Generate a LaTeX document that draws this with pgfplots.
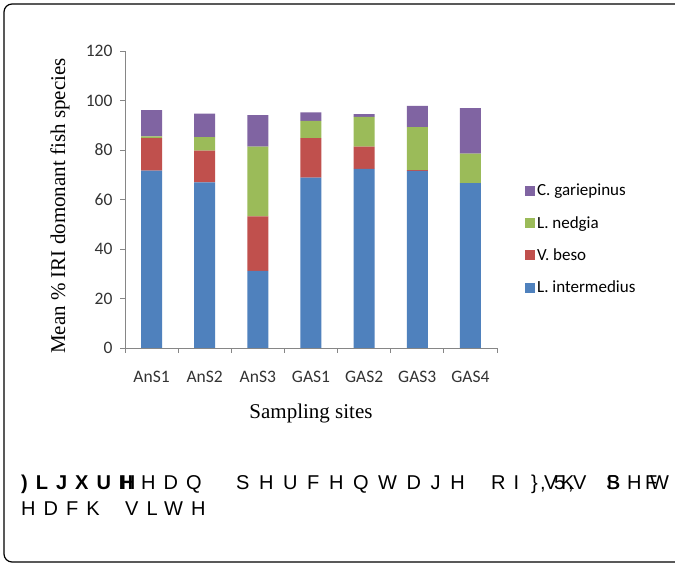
\documentclass[border=0pt]{standalone}
\usepackage{fontspec}
\setmainfont{Liberation Serif}
\newfontfamily\calib{Carlito}
\newfontfamily\capfont[LetterSpace=40]{Liberation Sans}
\newfontfamily\capfontwide[LetterSpace=48]{Liberation Sans}
\usepackage{pgfplots}
\usepackage{pgfplotstable}
\pgfplotsset{compat=1.18}

\definecolor{xlblue}{HTML}{4F81BD}
\definecolor{xlred}{HTML}{C0504D}
\definecolor{xlgreen}{HTML}{9BBB59}
\definecolor{xlpurple}{HTML}{8064A2}
\definecolor{axisgray}{HTML}{868686}

% mean %IRI per site, segments from bottom to top
\pgfplotstableread{
site blue red  green purple
0    71.7 13.1 0.7   10.6
1    66.9 12.8 5.5   9.5
2    31.2 22.0 28.2  12.7
3    68.8 16.0 7.0   3.4
4    72.4 9.0  12.0  1.1
5    71.6 0.3  17.3  8.6
6    66.6 0.0  11.9  18.4
}\datatable

\newcommand\cw[3]{\node[anchor=base west,inner sep=0pt] at (#1pt,#2pt) {\capfont\fontsize{20}{24}\selectfont #3};}

\begin{document}
\begin{tikzpicture}
\path[use as bounding box] (0pt,0pt) rectangle (675pt,565pt);
\clip (0pt,0pt) rectangle (675pt,565pt);
\fill[white] (0pt,0pt) rectangle (675pt,565pt);
\draw[line width=1.2pt, rounded corners=8pt] (4pt,3pt) rectangle (700pt,561pt);

\begin{axis}[
    at={(125pt,217pt)}, anchor=south west,
    scale only axis, width=372pt, height=297pt,
    ybar stacked, bar width=21pt,
    xmin=-0.5, xmax=6.5, ymin=0, ymax=120,
    axis x line*=bottom, axis y line*=left,
    axis line style={draw=axisgray, line width=0.8pt, -},
    xtick={-0.5,0.5,...,6.5},
    x tick label as interval,
    xticklabels={AnS1,AnS2,AnS3,GAS1,GAS2,GAS3,GAS4},
    ytick={0,20,...,120},
    tick align=outside, major tick length=5pt,
    tick style={draw=axisgray, line width=0.8pt},
    /pgf/number format/assume math mode=true,
    xticklabel style={font=\calib\fontsize{17.5}{20}\selectfont, text=black!80, yshift=-15pt},
    yticklabel style={font=\calib\fontsize{17.5}{20}\selectfont, text=black!80, xshift=-4pt},
    xlabel={Sampling sites},
    xlabel style={at={(axis description cs:0.5,-0.236)}, anchor=base, font=\fontsize{21}{24}\selectfont},
    ylabel={Mean \% IRI domonant fish species},
    ylabel style={at={(axis description cs:-0.175,0.478)}, anchor=center, font=\fontsize{21}{24}\selectfont},
    reverse legend,
    legend cell align=left,
    legend image code/.code={\fill[#1] (0pt,-5pt) rectangle (10pt,5pt);},
    legend style={at={(axis description cs:1.067,0.566)}, anchor=north west,
        draw=none, fill=none, row sep=15pt,
        font=\calib\fontsize{17}{20}\selectfont},
]
\addplot[fill=xlblue, draw=none] table[x=site, y=blue] {\datatable};
\addlegendentry{L. intermedius}
\addplot[fill=xlred, draw=none] table[x=site, y=red] {\datatable};
\addlegendentry{V. beso}
\addplot[fill=xlgreen, draw=none] table[x=site, y=green] {\datatable};
\addlegendentry{L. nedgia}
\addplot[fill=xlpurple, draw=none] table[x=site, y=purple] {\datatable};
\addlegendentry{C. gariepinus}
\end{axis}

% caption, as the garbled glyphs appear in the source
\node[anchor=base west,inner sep=0pt] at (21pt,75pt) {\capfont\bfseries\fontsize{20}{24}\selectfont )LJXUH};
\cw{121}{75}{H}
\cw{141}{75}{HDQ}
\node[anchor=base west,inner sep=0pt] at (236pt,75pt) {\capfontwide\fontsize{20}{24}\selectfont SHUFHQWDJH};
\cw{491}{75}{RI}
\cw{531}{75}{\}}
\cw{540}{75}{,}
\cw{544}{75}{V}
\cw{554}{75}{5}
\cw{561}{75}{K}
\cw{568}{75}{,}
\cw{573}{75}{V}
\cw{606}{75}{S}
\cw{607}{75}{B}
\cw{627}{75}{H}
\cw{645}{75}{F}
\cw{650}{75}{W}
\cw{21}{49}{HDFK}
\cw{125}{49}{VLWH}
\end{tikzpicture}
\end{document}
